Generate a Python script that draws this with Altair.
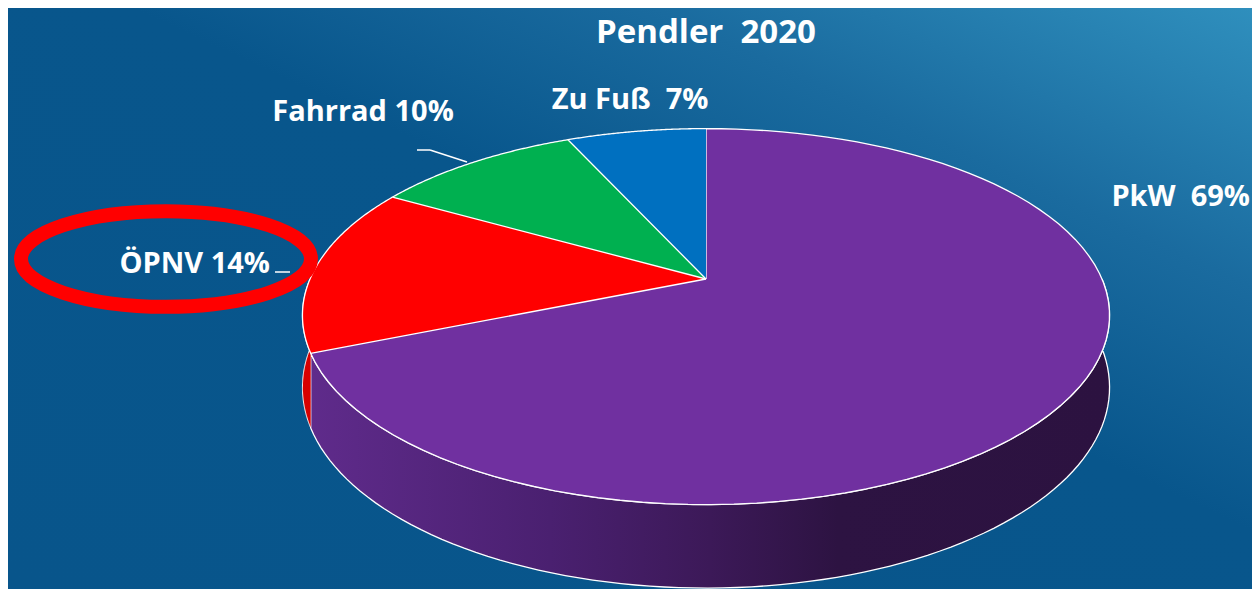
import altair as alt
import pandas as pd

# ---- data -------------------------------------------------------------
categories = ["PkW", "ÖPNV", "Fahrrad", "Zu Fuß"]
values = [69, 14, 10, 7]
labels = ["PkW \u00a069%", "ÖPNV 14%", "Fahrrad 10%", "Zu Fuß \u00a07%"]
colors = ["#7030a0", "#ff0000", "#00b050", "#0070c0"]
title_text = ["Pendler \u00a02020"]

# ---- layout constants ---------------------------------------------------
W, H = 1244, 581          # whole chart
CX, CY = 698, 271         # pie centre (pixels)
A, B = 396, 188           # horizontal / vertical radius (pixels)
K = 0.2                   # perspective factor
DEPTH = 0.37              # thickness of the pie (in vertical radii)
N = 90                    # arc resolution
FONT = "Open Sans"

df = pd.DataFrame({"Verkehrsmittel": categories, "Anteil": values, "Label": labels})

xs = alt.Scale(domain=[-CX / A, (W - CX) / A], nice=False, zero=False)
ys = alt.Scale(domain=[(CY - H) / B, CY / B], nice=False, zero=False)
X = alt.X("px:Q", scale=xs, axis=None)
Y = alt.Y("py:Q", scale=ys, axis=None)
COL = alt.Color("Verkehrsmittel:N",
                scale=alt.Scale(domain=categories, range=colors), legend=None)

base = (alt.Chart(df)
        .transform_joinaggregate(total="sum(Anteil)")
        .transform_window(cum="sum(Anteil)", frame=[None, 0])
        .transform_calculate(a0="2*PI*(datum.cum - datum.Anteil)/datum.total",
                             a1="2*PI*datum.cum/datum.total"))

# top surface of the slices
top = (base
       .transform_calculate(steps=f"sequence(0, {N + 2})")
       .transform_flatten(["steps"])
       .transform_calculate(
           th=f"datum.a0 + max(datum.steps - 1, 0)/{N}*(datum.a1 - datum.a0)",
           r="datum.steps == 0 ? 0 : 1")
       .transform_calculate(f=f"1 - {K}*cos(datum.th)")
       .transform_calculate(px="datum.r*sin(datum.th)*datum.f",
                            py="datum.r*cos(datum.th)*datum.f")
       .mark_line(filled=True, stroke="white", strokeWidth=1.3, strokeJoin="round")
       .encode(x=X, y=Y, color=COL, order=alt.Order("steps:Q")))

# visible side wall (front half)
side = (base
        .transform_calculate(lo="max(datum.a0, PI/2)", hi="min(datum.a1, 3*PI/2)")
        .transform_filter("datum.lo < datum.hi")
        .transform_calculate(steps=f"sequence(0, {2 * N + 2})")
        .transform_flatten(["steps"])
        .transform_calculate(
            bot=f"datum.steps > {N} ? 1 : 0",
            th=(f"datum.steps <= {N} ? datum.lo + datum.steps/{N}*(datum.hi - datum.lo)"
                f" : datum.hi - (datum.steps - {N + 1})/{N}*(datum.hi - datum.lo)"))
        .transform_calculate(f=f"1 - {K}*cos(datum.th)")
        .transform_calculate(px="sin(datum.th)*datum.f",
                             py=f"cos(datum.th)*datum.f - datum.bot*{DEPTH}*datum.f"))

side_grad = alt.Gradient(
    gradient="linear", x1=0, y1=0, x2=1, y2=0,
    stops=[alt.GradientStop(color="#5f2b8b", offset=0),
           alt.GradientStop(color="#4a2070", offset=0.3),
           alt.GradientStop(color="#3c1958", offset=0.5),
           alt.GradientStop(color="#2d1342", offset=0.66),
           alt.GradientStop(color="#2c1240", offset=1)])

side_main = (side.transform_filter(alt.datum.Verkehrsmittel == "PkW")
             .mark_line(filled=True, fill=side_grad, stroke="white", strokeWidth=1.3)
             .encode(x=X, y=Y, order=alt.Order("steps:Q")))
side_rest = (side.transform_filter(alt.datum.Verkehrsmittel != "PkW")
             .mark_line(filled=True, fill="#d80000", stroke="white", strokeWidth=1)
             .encode(x=X, y=Y, detail="Verkehrsmittel:N", order=alt.Order("steps:Q")))

# background
bg_grad = alt.Gradient(
    gradient="linear", x1=0, y1=1, x2=1, y2=0,
    stops=[alt.GradientStop(color="#08558b", offset=0),
           alt.GradientStop(color="#08568c", offset=0.55),
           alt.GradientStop(color="#1a6b9f", offset=0.76),
           alt.GradientStop(color="#2f8fbd", offset=1)])
background = (alt.Chart(pd.DataFrame({"bg": [0]}))
              .mark_rect(fill=bg_grad)
              .encode(x=alt.value(0), x2=alt.value(W), y=alt.value(0), y2=alt.value(H)))

# title
title = (alt.Chart(pd.DataFrame({"t": title_text}))
         .mark_text(font=FONT, fontWeight="bold", fontSize=33, color="white",
                    align="center", baseline="middle")
         .encode(x=alt.value(698), y=alt.value(25), text="t:N"))

# slice labels
LABEL_POS = {"PkW": (1242, 189, "right"),
             "ÖPNV": (262, 256, "right"),
             "Fahrrad": (355, 104, "center"),
             "Zu Fuß": (622, 92, "center")}
label_layers = [
    alt.Chart(df).transform_filter(alt.datum.Verkehrsmittel == c)
    .mark_text(font=FONT, fontWeight="bold", fontSize=29, color="white",
               align=al, baseline="middle")
    .encode(x=alt.value(px), y=alt.value(py), text="Label:N")
    for c, (px, py, al) in LABEL_POS.items()
]

# leader lines
LEADERS = [(409, 142, 422, 142), (422, 142, 459, 154), (267, 264, 282, 264)]
leader_layers = [
    alt.Chart(pd.DataFrame({"l": [0]}))
    .mark_rule(color="white", strokeWidth=1.5)
    .encode(x=alt.value(a), y=alt.value(b), x2=alt.value(c), y2=alt.value(d))
    for a, b, c, d in LEADERS
]

# red highlight ellipse around the ÖPNV label
ELLIPSE = "M -1 0 A 1 0.33 0 1 1 1 0 A 1 0.33 0 1 1 -1 0 Z"
highlight = (alt.Chart(pd.DataFrame({"h": [0]}))
             .mark_point(shape=ELLIPSE, size=290 * 290, filled=False,
                         color="#ff0000", strokeWidth=14, opacity=1)
             .encode(x=alt.value(158), y=alt.value(251)))

chart = (alt.layer(background, side_main, side_rest, top, title,
                   *label_layers, *leader_layers, highlight)
         .properties(width=W, height=H, padding=0,
                     autosize=alt.AutoSizeParams(type="none"))
         .configure_view(strokeWidth=0))

chart.save("out.html", embed_options={"renderer": "svg", "actions": False})
